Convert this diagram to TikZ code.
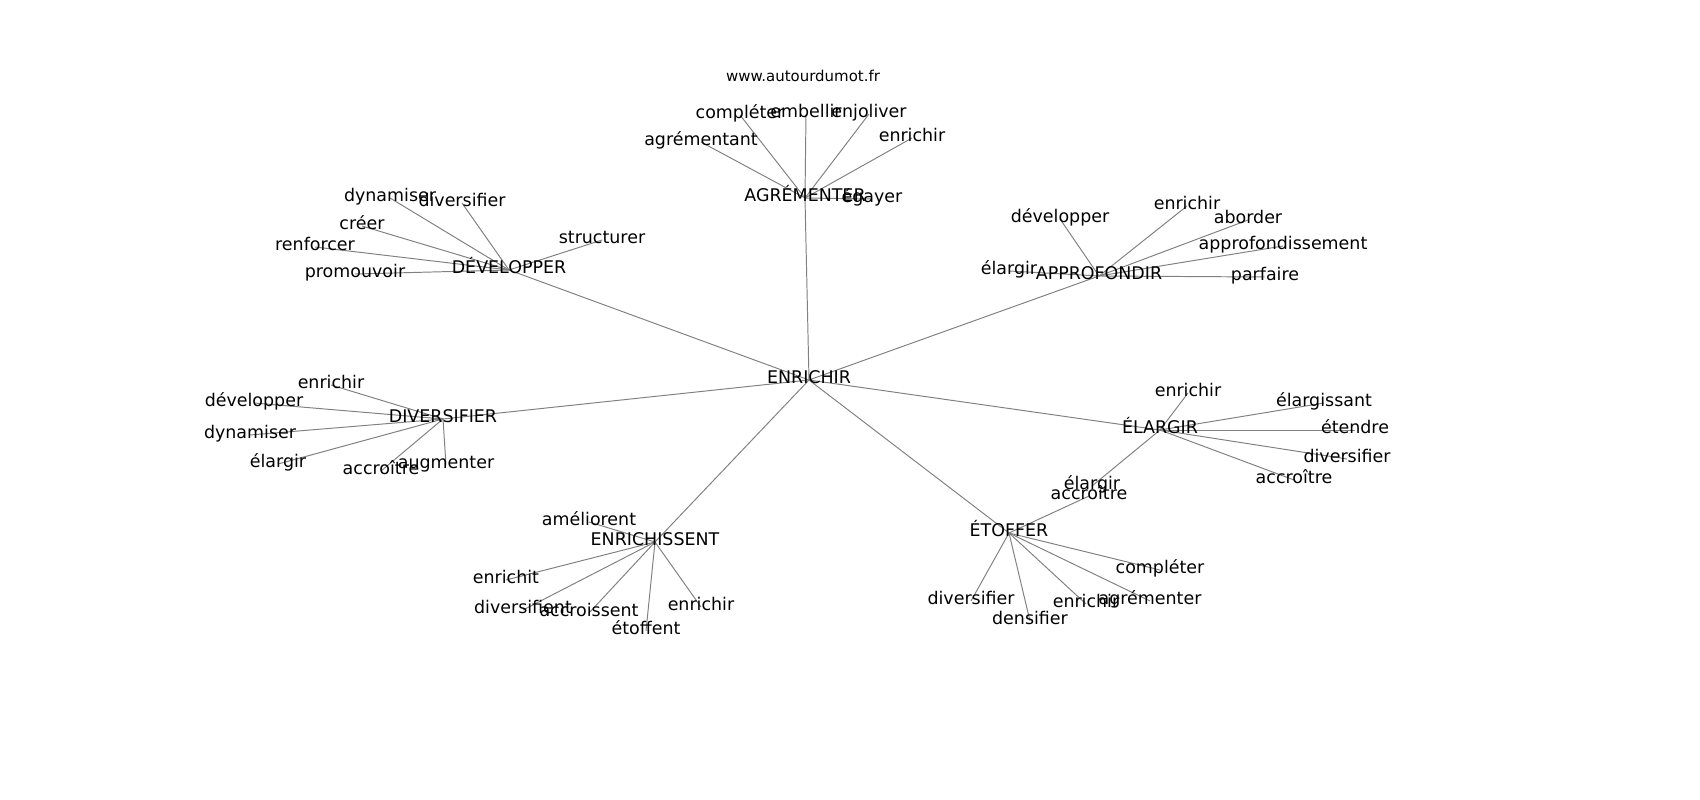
\documentclass[tikz,border=0pt]{standalone}
\usepackage{fontspec}
\setmainfont{DejaVu Sans}
\usetikzlibrary{backgrounds}

\begin{document}
\begin{tikzpicture}[x=0.01in,y=-0.01in]

\tikzstyle{w} = [inner sep=0pt, text height=0.76em, text depth=0.24em, font=\fontsize{12.6}{15}\selectfont]
\tikzstyle{e} = [draw=gray, line width=0.7pt]
\useasboundingbox (0,0) rectangle (1700,800);

\node[inner sep=0pt, font=\fontsize{10.8}{13}\selectfont] (site) at (803,76) {www.autourdumot.fr};

% hubs
\node[w] (enr) at (809,380) {ENRICHIR};
\node[w] (agr) at (805,198) {AGRÉMENTER};
\node[w] (dev) at (509,270) {DÉVELOPPER};
\node[w] (app) at (1099,276) {APPROFONDIR};
\node[w] (div) at (443,419) {DIVERSIFIER};
\node[w] (ela) at (1160,430) {ÉLARGIR};
\node[w] (eto) at (1009,533) {ÉTOFFER};
\node[w] (ens) at (655,542) {ENRICHISSENT};

% leaves
\node[w] (agr1) at (701,142) {agrémentant};
\node[w] (agr2) at (740,115) {compléter};
\node[w] (agr3) at (806,114) {embellir};
\node[w] (agr4) at (869,114) {enjoliver};
\node[w] (agr5) at (912,138) {enrichir};
\node[w] (agr6) at (872,199) {égayer};

\node[w] (dev1) at (390,198) {dynamiser};
\node[w] (dev2) at (462,203) {diversifier};
\node[w] (dev3) at (362,226) {créer};
\node[w] (dev4) at (315,247) {renforcer};
\node[w] (dev5) at (355,274) {promouvoir};
\node[w] (dev6) at (602,240) {structurer};

\node[w] (app1) at (1060,219) {développer};
\node[w] (app2) at (1187,206) {enrichir};
\node[w] (app3) at (1248,220) {aborder};
\node[w] (app4) at (1283,246) {approfondissement};
\node[w] (app5) at (1009,271) {élargir};
\node[w] (app6) at (1265,277) {parfaire};

\node[w] (div1) at (331,385) {enrichir};
\node[w] (div2) at (254,403) {développer};
\node[w] (div3) at (250,435) {dynamiser};
\node[w] (div4) at (278,464) {élargir};
\node[w] (div5) at (381,471) {accroître};
\node[w] (div6) at (446,465) {augmenter};

\node[w] (ela1) at (1188,393) {enrichir};
\node[w] (ela2) at (1324,403) {élargissant};
\node[w] (ela3) at (1355,430) {étendre};
\node[w] (ela4) at (1347,459) {diversifier};
\node[w] (ela5) at (1294,480) {accroître};
\node[w] (ela6) at (1092,486) {élargir};

\node[w] (eto1) at (1089,496) {accroître};
\node[w] (eto2) at (1160,570) {compléter};
\node[w] (eto3) at (1150,601) {agrémenter};
\node[w] (eto4) at (1086,604) {enrichir};
\node[w] (eto5) at (1030,621) {densifier};
\node[w] (eto6) at (971,601) {diversifier};

\node[w] (ens1) at (589,522) {améliorent};
\node[w] (ens2) at (506,580) {enrichit};
\node[w] (ens3) at (523,610) {diversifient};
\node[w] (ens4) at (589,613) {accroissent};
\node[w] (ens5) at (646,631) {étoffent};
\node[w] (ens6) at (701,607) {enrichir};

% edges
\begin{scope}[on background layer]
\draw[e] (enr.center) -- (agr.center);
\draw[e] (enr.center) -- (dev.center);
\draw[e] (enr.center) -- (app.center);
\draw[e] (enr.center) -- (div.center);
\draw[e] (enr.center) -- (ela.center);
\draw[e] (enr.center) -- (eto.center);
\draw[e] (enr.center) -- (ens.center);

\draw[e] (agr.center) -- (agr1.center);
\draw[e] (agr.center) -- (agr2.center);
\draw[e] (agr.center) -- (agr3.center);
\draw[e] (agr.center) -- (agr4.center);
\draw[e] (agr.center) -- (agr5.center);
\draw[e] (agr.center) -- (agr6.center);

\draw[e] (dev.center) -- (dev1.center);
\draw[e] (dev.center) -- (dev2.center);
\draw[e] (dev.center) -- (dev3.center);
\draw[e] (dev.center) -- (dev4.center);
\draw[e] (dev.center) -- (dev5.center);
\draw[e] (dev.center) -- (dev6.center);

\draw[e] (app.center) -- (app1.center);
\draw[e] (app.center) -- (app2.center);
\draw[e] (app.center) -- (app3.center);
\draw[e] (app.center) -- (app4.center);
\draw[e] (app.center) -- (app5.center);
\draw[e] (app.center) -- (app6.center);

\draw[e] (div.center) -- (div1.center);
\draw[e] (div.center) -- (div2.center);
\draw[e] (div.center) -- (div3.center);
\draw[e] (div.center) -- (div4.center);
\draw[e] (div.center) -- (div5.center);
\draw[e] (div.center) -- (div6.center);

\draw[e] (ela.center) -- (ela1.center);
\draw[e] (ela.center) -- (ela2.center);
\draw[e] (ela.center) -- (ela3.center);
\draw[e] (ela.center) -- (ela4.center);
\draw[e] (ela.center) -- (ela5.center);
\draw[e] (ela.center) -- (ela6.center);

\draw[e] (eto.center) -- (eto1.center);
\draw[e] (eto.center) -- (eto2.center);
\draw[e] (eto.center) -- (eto3.center);
\draw[e] (eto.center) -- (eto4.center);
\draw[e] (eto.center) -- (eto5.center);
\draw[e] (eto.center) -- (eto6.center);

\draw[e] (ens.center) -- (ens1.center);
\draw[e] (ens.center) -- (ens2.center);
\draw[e] (ens.center) -- (ens3.center);
\draw[e] (ens.center) -- (ens4.center);
\draw[e] (ens.center) -- (ens5.center);
\draw[e] (ens.center) -- (ens6.center);
\end{scope}
\end{tikzpicture}
\end{document}
